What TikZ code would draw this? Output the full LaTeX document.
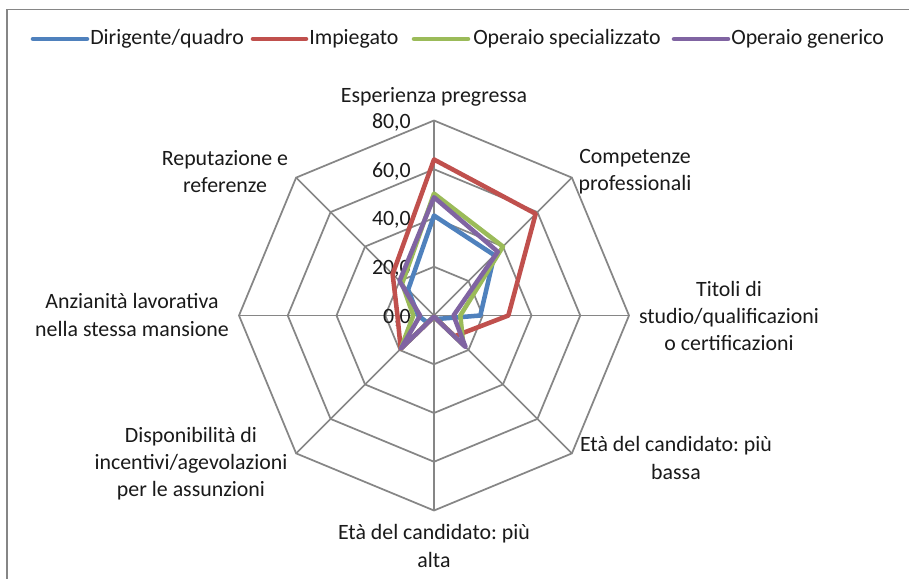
\documentclass[tikz,border=0pt]{standalone}
\usepackage{fontspec}
\setmainfont{Carlito}
\frenchspacing
\definecolor{sblue}{HTML}{4F81BD}
\definecolor{sred}{HTML}{C0504D}
\definecolor{sgreen}{HTML}{9BBB59}
\definecolor{spurple}{HTML}{8064A2}
\definecolor{gridgray}{HTML}{868686}
\definecolor{txt}{HTML}{1A1A1A}
\tikzset{
  gridline/.style={draw=gridgray, line width=1.3pt},
  series/.style={line width=3.4pt, line join=round, line cap=round},
  lbl/.style={text=txt, font=\fontsize{16.4}{20.3}\selectfont, align=center, inner sep=0pt},
  ticklbl/.style={text=txt, font=\fontsize{16.4}{20.3}\selectfont, inner sep=0pt, anchor=east},
}
\begin{document}
\begin{tikzpicture}[x=0.75pt,y=-0.75pt]
\useasboundingbox (0,0) rectangle (909,578);
\clip (0,0) rectangle (909,578);
\fill[white] (0,0) rectangle (909,578);
% frame
\draw[draw=gridgray, line width=1.4pt] (7,600) -- (7,9.5) -- (930,9.5);
% center
\coordinate (C) at (434,315.5);
% grid rings
\foreach \r in {20,40,60,80}{
  \foreach \k in {0,...,7}{
    \coordinate (R\r-\k) at ({434+2.4375*\r*sin(45*\k)},{315.5-2.4375*\r*cos(45*\k)});
  }
  \draw[gridline] (R\r-0)--(R\r-1)--(R\r-2)--(R\r-3)--(R\r-4)--(R\r-5)--(R\r-6)--(R\r-7)--cycle;
}
% spokes
\foreach \k in {0,...,7}{
  \draw[gridline] (C) -- (R80-\k);
}
% tick labels
\foreach \v/\t in {0/{0,0},20/{20,0},40/{40,0},60/{60,0},80/{80,0}}{
  \node[ticklbl] (tick\v) at (411,{317.5-2.4375*\v}) {\t};
}
% series data
\foreach \v [count=\k from 0] in {41,35,19,2,0.5,4,6.5,15}
  \coordinate (b\k) at ({434+2.4375*\v*sin(45*\k)},{315.5-2.4375*\v*cos(45*\k)});
\foreach \v [count=\k from 0] in {64,59,30.5,12,0.5,19.3,15,24}
  \coordinate (r\k) at ({434+2.4375*\v*sin(45*\k)},{315.5-2.4375*\v*cos(45*\k)});
\foreach \v [count=\k from 0] in {50,40,10.8,17,0.5,19.3,8.5,18.5}
  \coordinate (g\k) at ({434+2.4375*\v*sin(45*\k)},{315.5-2.4375*\v*cos(45*\k)});
\foreach \v [count=\k from 0] in {48.5,37,8,18.3,0.5,19.3,5.7,20}
  \coordinate (p\k) at ({434+2.4375*\v*sin(45*\k)},{315.5-2.4375*\v*cos(45*\k)});
\draw[series, sblue] (b0)--(b1)--(b2)--(b3)--(b4)--(b5)--(b6)--(b7)--cycle;
\draw[series, sred] (r0)--(r1)--(r2)--(r3)--(r4)--(r5)--(r6)--(r7)--cycle;
\draw[series, sgreen] (g0)--(g1)--(g2)--(g3)--(g4)--(g5)--(g6)--(g7)--cycle;
\draw[series, spurple] (p0)--(p1)--(p2)--(p3)--(p4)--(p5)--(p6)--(p7)--cycle;
% axis labels
\node[lbl] (l0) at (434,97) {Esperienza pregressa};
\node[lbl] (l1) at (635,172) {Competenze\\professionali};
\node[lbl] (l2) at (729,316) {Titoli di\\studio/qualificazioni\\o certificazioni};
\node[lbl] (l3) at (676,458) {Età del candidato: più\\bassa};
\node[lbl] (l4) at (434,546) {Età del candidato: più\\alta};
\node[lbl] (l5) at (191,464) {Disponibilità di\\incentivi/agevolazioni\\per le assunzioni};
\node[lbl] (l6) at (132,315) {Anzianità lavorativa\\nella stessa mansione};
\node[lbl] (l7) at (225,172) {Reputazione e\\referenze};
% legend
\coordinate (lb1) at (33,39); \coordinate (lb2) at (87,39);
\coordinate (lr1) at (253,39); \coordinate (lr2) at (306,39);
\coordinate (lg1) at (414,39); \coordinate (lg2) at (468,39);
\coordinate (lp1) at (674,39); \coordinate (lp2) at (728,39);
\draw[series, sblue] (lb1) -- (lb2);
\draw[series, sred] (lr1) -- (lr2);
\draw[series, sgreen] (lg1) -- (lg2);
\draw[series, spurple] (lp1) -- (lp2);
\node[lbl, anchor=west] (tb) at (90,39) {Dirigente/quadro};
\node[lbl, anchor=west] (tr) at (309,39) {Impiegato};
\node[lbl, anchor=west] (tg) at (473,39) {Operaio specializzato};
\node[lbl, anchor=west] (tp) at (731,39) {Operaio generico};
\end{tikzpicture}
\end{document}
